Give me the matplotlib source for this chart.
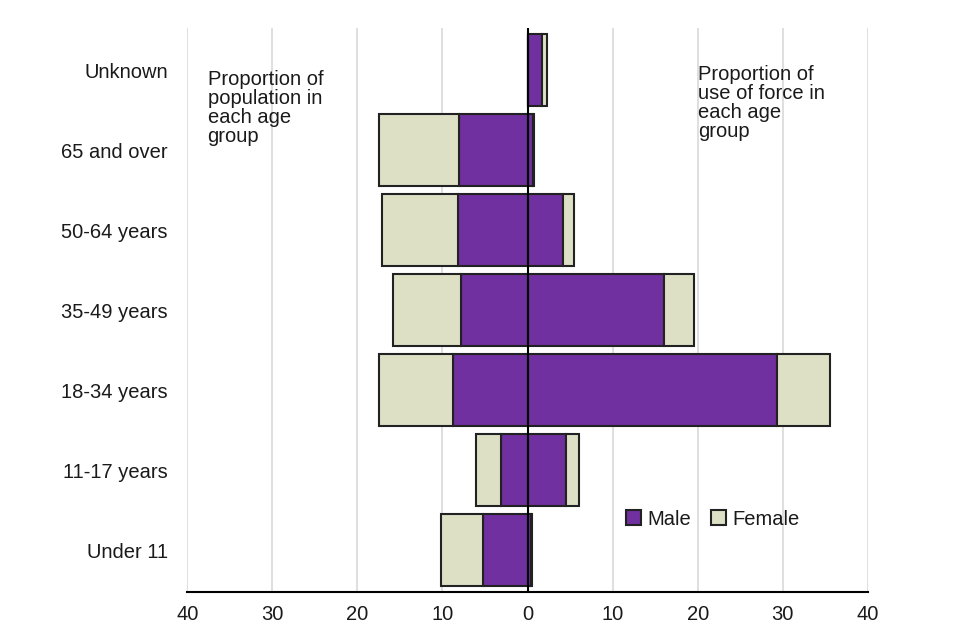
import matplotlib
matplotlib.use("Agg")
import matplotlib.pyplot as plt

# age groups, bottom to top
categories = ["Under 11", "11-17 years", "18-34 years", "35-49 years",
              "50-64 years", "65 and over", "Unknown"]

# proportion of population (%), drawn to the left
pop_male = [5.2, 3.1, 8.8, 7.8, 8.2, 8.0, 0.0]
pop_female = [5.0, 3.0, 8.6, 8.0, 8.9, 9.4, 0.0]

# proportion of use of force (%), drawn to the right
force_male = [0.4, 4.5, 29.3, 16.0, 4.2, 0.6, 1.7]
force_female = [0.1, 1.6, 6.3, 3.6, 1.3, 0.2, 0.6]

xticks = [-40, -30, -20, -10, 0, 10, 20, 30, 40]
xtick_labels = ["40", "30", "20", "10", "0", "10", "20", "30", "40"]

MALE = "#7030A0"
FEMALE = "#DEE0C6"
EDGE = "#222222"
TEXT = "#1a1a1a"
FS = 14.5

plt.rcParams["font.family"] = ["Liberation Sans", "DejaVu Sans"]

fig = plt.figure(figsize=(9.6, 6.4), dpi=100)
ax = fig.add_axes([0.195, 0.075, 0.709, 0.881])

y = list(range(len(categories)))
h = 0.9

neg_male = [-v for v in pop_male]
neg_female = [-v for v in pop_female]

ax.barh(y, neg_male, height=h, color=MALE, edgecolor=EDGE, linewidth=1.5,
        label="Male", zorder=2)
ax.barh(y, neg_female, left=neg_male, height=h, color=FEMALE, edgecolor=EDGE,
        linewidth=1.5, label="Female", zorder=2)
ax.barh(y, force_male, height=h, color=MALE, edgecolor=EDGE, linewidth=1.5,
        zorder=2)
ax.barh(y, force_female, left=force_male, height=h, color=FEMALE,
        edgecolor=EDGE, linewidth=1.5, zorder=2)

ax.axvline(0, color="black", linewidth=1.5, zorder=3)

ax.set_xlim(-40, 40)
ax.set_ylim(-0.525, len(categories) - 0.475)
ax.set_xticks(xticks)
ax.set_xticklabels(xtick_labels)
ax.set_yticks(y)
ax.set_yticklabels(categories)
ax.tick_params(axis="both", length=0, labelsize=FS, colors=TEXT)
ax.tick_params(axis="y", pad=14)
ax.tick_params(axis="x", pad=9)

ax.grid(axis="x", color="#d9d9d9", linewidth=1.2, zorder=0)
ax.set_axisbelow(True)
for side in ["top", "right", "left"]:
    ax.spines[side].set_visible(False)
ax.spines["bottom"].set_color("black")
ax.spines["bottom"].set_linewidth(1.5)

ax.text(-37.6, 6.0, "Proportion of\npopulation in\neach age\ngroup",
        fontsize=FS, color=TEXT, va="top", ha="left", linespacing=1.0)
ax.text(20.0, 6.06, "Proportion of\nuse of force in\neach age\ngroup",
        fontsize=FS, color=TEXT, va="top", ha="left", linespacing=1.0)

leg = ax.legend(loc="center", bbox_to_anchor=(0.772, 0.129), ncol=2,
                frameon=False, fontsize=FS, handlelength=0.75, handleheight=0.75,
                handletextpad=0.3, columnspacing=1.0, borderpad=0)
for t in leg.get_texts():
    t.set_color(TEXT)

fig.savefig("out.png", dpi=100)
